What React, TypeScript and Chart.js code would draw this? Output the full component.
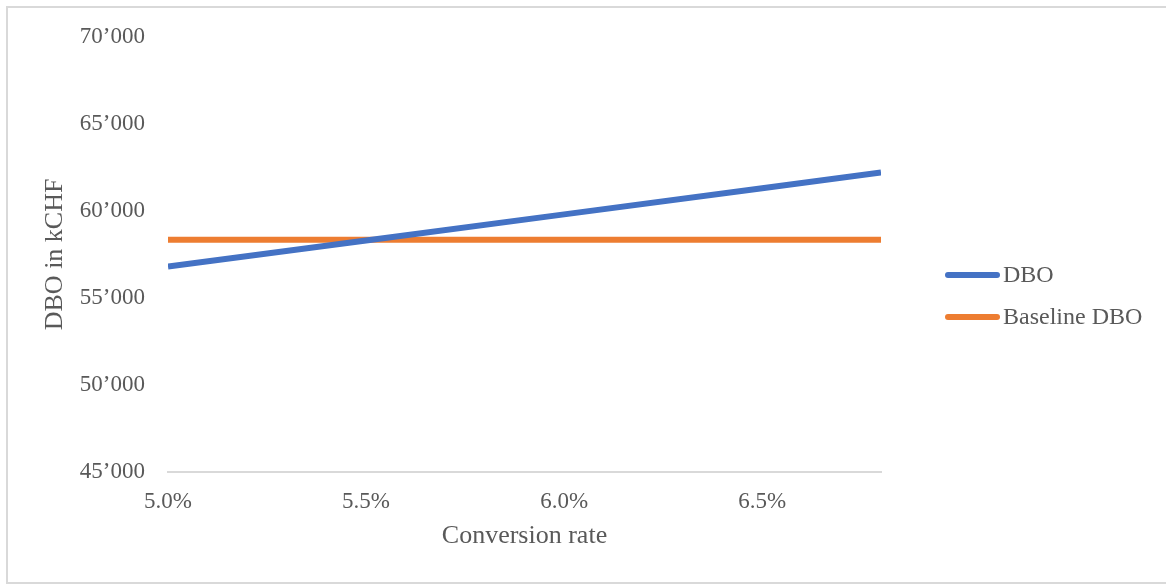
import React, { useEffect, useRef } from "react";
import { Chart, registerables } from "chart.js";

Chart.register(...registerables);

// ---- data ----
const CONVERSION_RATE = [5.0, 5.5, 6.0, 6.5, 6.8];
const DBO = [56800, 58300, 59800, 61300, 62200];
const BASELINE_DBO = [58340, 58340, 58340, 58340, 58340];
const X_TICKS = [5.0, 5.5, 6.0, 6.5];
const Y_TICKS = [45000, 50000, 55000, 60000, 65000, 70000];
const SERIES_NAMES = ["DBO", "Baseline DBO"];
const X_TITLE = "Conversion rate";
const Y_TITLE = "DBO in kCHF";

// ---- styles ----
const COLORS = ["#4472C4", "#ED7D31"];
const FONT = '"Liberation Serif", "Times New Roman", serif';
const TEXT = "#595959";
const FRAME = "#D9D9D9";

const framePlugin = {
  id: "frame",
  beforeDraw(chart: any) {
    const ctx = chart.ctx;
    ctx.save();
    ctx.fillStyle = "#ffffff";
    ctx.fillRect(0, 0, chart.width, chart.height);
    ctx.strokeStyle = FRAME;
    ctx.lineWidth = 2;
    ctx.strokeRect(7, 7, chart.width + 20, chart.height - 8);
    ctx.restore();
  },
  afterDraw(chart: any) {
    const ctx = chart.ctx;
    const area = chart.chartArea;
    ctx.save();
    chart.data.datasets.forEach((ds: any, i: number) => {
      const y = 275 + i * 42;
      const x0 = area.right + 64;
      ctx.strokeStyle = ds.borderColor;
      ctx.lineWidth = 6;
      ctx.lineCap = "round";
      ctx.beginPath();
      ctx.moveTo(x0 + 3, y);
      ctx.lineTo(x0 + 52, y);
      ctx.stroke();
      ctx.fillStyle = TEXT;
      ctx.font = `24px ${FONT}`;
      ctx.textBaseline = "middle";
      ctx.textAlign = "left";
      ctx.fillText(ds.label, x0 + 58, y + 1);
    });
    ctx.restore();
  },
};

export default function App() {
  const ref = useRef<HTMLCanvasElement | null>(null);

  useEffect(() => {
    if (!ref.current) return;
    const series = [DBO, BASELINE_DBO];
    const chart = new Chart(ref.current, {
      type: "line",
      data: {
        datasets: series.map((vals, i) => ({
          label: SERIES_NAMES[i],
          data: CONVERSION_RATE.map((x, j) => ({ x, y: vals[j] })),
          borderColor: COLORS[i],
          backgroundColor: COLORS[i],
          borderWidth: 6,
          pointRadius: 0,
          tension: 0,
          fill: false,
        })),
      },
      options: {
        animation: false,
        responsive: false,
        events: [],
        layout: { padding: { left: 0, top: 36, right: 285, bottom: 0 } },
        plugins: {
          legend: { display: false },
          tooltip: { enabled: false },
        },
        scales: {
          x: {
            type: "linear",
            min: 5.0,
            max: 6.8,
            afterBuildTicks: (s: any) => {
              s.ticks = X_TICKS.map((v) => ({ value: v }));
            },
            afterFit: (s: any) => {
              s.height = 112;
            },
            grid: { display: false, drawTicks: false },
            border: { display: true, color: FRAME, width: 2 },
            ticks: {
              padding: 16,
              maxRotation: 0,
              autoSkip: false,
              color: TEXT,
              font: { family: FONT, size: 23 },
              callback: (v: any) => Number(v).toFixed(1) + "%",
            },
            title: {
              display: true,
              text: X_TITLE,
              color: TEXT,
              font: { family: FONT, size: 26 },
              padding: { top: 0, bottom: 32 },
            },
          },
          y: {
            min: 45000,
            max: 70000,
            afterBuildTicks: (s: any) => {
              s.ticks = Y_TICKS.map((v) => ({ value: v }));
            },
            afterFit: (s: any) => {
              s.width = 168;
            },
            grid: { display: false, drawTicks: false },
            border: { display: false },
            ticks: {
              padding: 23,
              color: TEXT,
              font: { family: FONT, size: 23 },
              callback: (v: any) => `${Math.round(Number(v) / 1000)}\u2019000`,
            },
            title: {
              display: true,
              text: Y_TITLE,
              color: TEXT,
              font: { family: FONT, size: 26 },
              padding: { top: 40, bottom: 0 },
            },
          },
        },
      },
      plugins: [framePlugin],
    } as any);
    return () => chart.destroy();
  }, []);

  return (
    <div style={{ position: "fixed", left: 0, top: 0, width: 1166, height: 584 }}>
      <canvas ref={ref} width={1166} height={584} style={{ display: "block" }} />
    </div>
  );
}
